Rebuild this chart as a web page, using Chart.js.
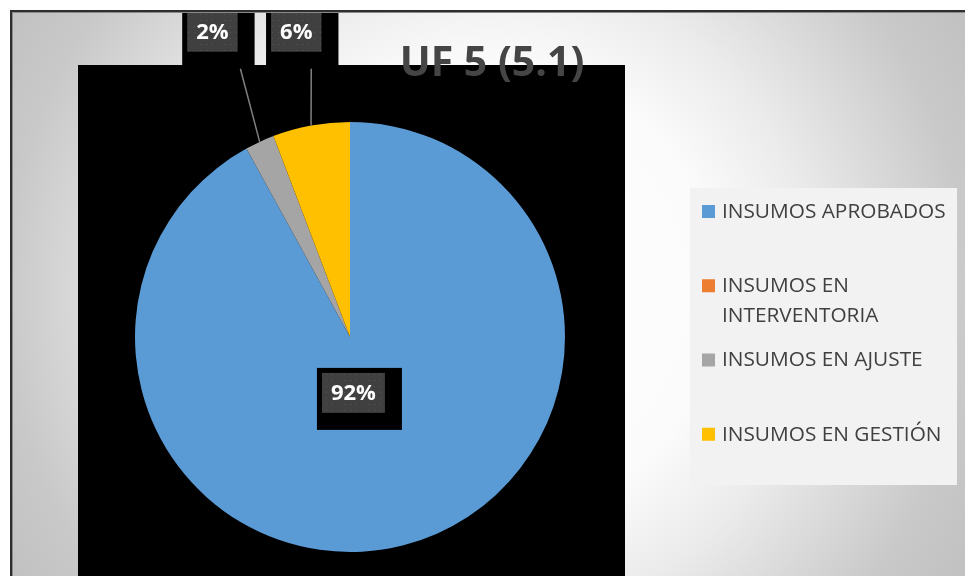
<!DOCTYPE html>
<html>
<head>
<meta charset="utf-8">
<script src="https://cdn.jsdelivr.net/npm/chart.js@4/dist/chart.umd.min.js"></script>
<style>
  html, body { margin: 0; padding: 0; background: #ffffff; }
  #wrap { width: 965px; height: 576px; }
</style>
</head>
<body>
<div id="wrap"><canvas id="pieChart" width="965" height="576"></canvas></div>
<script>
// datos del grafico
const chartTitle = 'UF 5 (5.1)';
const categories = ['INSUMOS APROBADOS', 'INSUMOS EN INTERVENTORIA', 'INSUMOS EN AJUSTE', 'INSUMOS EN GESTIÓN'];
const values = [92.0, 0, 2.2, 5.8];
const colors = ['#5B9BD5', '#ED7D31', '#A5A5A5', '#FFC000'];

// posicion de las etiquetas, relativa al centro del pie (en radios)
const labelSpots = [
    { dx: 0.016, dy: 0.26, leader: false },
    null,
    { dx: -0.64, dy: -1.42, leader: true, lx: 28 },
    { dx: -0.25, dy: -1.42, leader: true, lx: 15 }
];

const FONT = '"Open Sans", "DejaVu Sans", sans-serif';

// patron de puntos de las cajas de etiquetas
const dotCanvas = document.createElement('canvas');
dotCanvas.width = 6;
dotCanvas.height = 6;
const dctx = dotCanvas.getContext('2d');
dctx.fillStyle = '#404040';
dctx.fillRect(0, 0, 6, 6);
dctx.fillStyle = '#555555';
dctx.fillRect(2, 2, 1, 1);

const backdrop = {
    id: 'backdrop',
    beforeDraw(chart) {
        const ctx = chart.ctx;
        const area = chart.chartArea;
        ctx.save();
        ctx.fillStyle = '#ffffff';
        ctx.fillRect(0, 0, chart.width, chart.height);
        const g = ctx.createRadialGradient(487, 293, 0, 487, 293, 545);
        g.addColorStop(0, '#ffffff');
        g.addColorStop(0.42, '#fbfbfb');
        g.addColorStop(0.6, '#ebebeb');
        g.addColorStop(0.88, '#c9c9c9');
        g.addColorStop(1, '#c2c2c2');
        ctx.fillStyle = g;
        ctx.fillRect(10, 10, chart.width - 10, chart.height - 10);
        // fondo negro del area de trazado
        ctx.fillStyle = '#000000';
        ctx.fillRect(area.left - 57, area.top - 57, (area.right + 60) - (area.left - 57), chart.height);
        ctx.restore();
    },
    afterDraw(chart) {
        const ctx = chart.ctx;
        const meta = chart.getDatasetMeta(0);
        const total = values.reduce((a, b) => a + b, 0);
        ctx.save();

        // etiquetas de datos
        ctx.font = 'bold 22px ' + FONT;
        meta.data.forEach((arc, i) => {
            const spot = labelSpots[i];
            if (!spot || values[i] === 0) return;
            const r = arc.outerRadius;
            const cx = arc.x + spot.dx * r;
            const cy = arc.y + spot.dy * r;
            const txt = Math.round(values[i] / total * 100) + '%';
            const tw = ctx.measureText(txt).width;
            const bw = tw + 18, bh = 40;
            const bx = cx - bw / 2, by = cy - bh / 2;
            ctx.fillStyle = '#000000';
            ctx.fillRect(bx - 5, by - 5, bw + 22, bh + 22);
            ctx.fillStyle = ctx.createPattern(dotCanvas, 'repeat');
            ctx.fillRect(bx, by, bw, bh);
            ctx.fillStyle = '#ffffff';
            ctx.textAlign = 'center';
            ctx.textBaseline = 'middle';
            ctx.fillText(txt, cx, cy + 1);
            if (spot.leader) {
                const mid = (arc.startAngle + arc.endAngle) / 2;
                ctx.strokeStyle = '#808080';
                ctx.lineWidth = 1.5;
                ctx.beginPath();
                ctx.moveTo(cx + spot.lx, by + bh + 17);
                ctx.lineTo(arc.x + Math.cos(mid) * r, arc.y + Math.sin(mid) * r);
                ctx.stroke();
            }
        });

        // titulo
        ctx.font = 'bold 41px ' + FONT;
        ctx.fillStyle = '#454545';
        ctx.textAlign = 'center';
        ctx.textBaseline = 'alphabetic';
        ctx.fillText(chartTitle, 492, 76);

        // leyenda
        const lx = 690, ly = 188, lw = 267, lh = 297;
        ctx.fillStyle = '#f2f2f2';
        ctx.fillRect(lx, ly, lw, lh);
        ctx.font = '20.8px ' + FONT;
        ctx.textAlign = 'left';
        ctx.textBaseline = 'middle';
        const slot = lh / categories.length;
        categories.forEach((name, i) => {
            const y0 = ly + slot * i + 23;
            ctx.fillStyle = colors[i];
            ctx.fillRect(lx + 12, y0 - 6, 13, 13);
            ctx.fillStyle = '#404040';
            // partir el texto si no cabe
            const words = name.split(' ');
            const lines = [];
            let cur = '';
            words.forEach(w => {
                const test = cur ? cur + ' ' + w : w;
                if (ctx.measureText(test).width > 234 && cur) {
                    lines.push(cur);
                    cur = w;
                } else {
                    cur = test;
                }
            });
            lines.push(cur);
            lines.forEach((ln, k) => ctx.fillText(ln, lx + 32, y0 + 1 + k * 30));
        });

        // borde del grafico
        ctx.fillStyle = '#ffffff';
        ctx.fillRect(0, 0, chart.width, 10);
        ctx.fillRect(0, 0, 10, chart.height);
        ctx.fillStyle = '#2e2e2e';
        ctx.fillRect(10, 10, chart.width - 10, 2);
        ctx.fillRect(10, 10, 2, chart.height - 10);
        ctx.fillStyle = '#8a8a8a';
        ctx.fillRect(12, 12, chart.width - 12, 1);
        ctx.fillRect(12, 12, 1, chart.height - 12);
        ctx.restore();
    }
};

const ctx = document.getElementById('pieChart').getContext('2d');
const chart = new Chart(ctx, {
    type: 'pie',
    data: {
        labels: categories,
        datasets: [{
            data: values,
            backgroundColor: colors,
            borderWidth: 0
        }]
    },
    options: {
        responsive: false,
        animation: false,
        devicePixelRatio: 1,
        layout: {
            padding: { left: 135, right: 400, top: 122, bottom: 24 }
        },
        plugins: {
            legend: { display: false },
            title: { display: false },
            tooltip: { enabled: false }
        }
    },
    plugins: [backdrop]
});
</script>
</body>
</html>
